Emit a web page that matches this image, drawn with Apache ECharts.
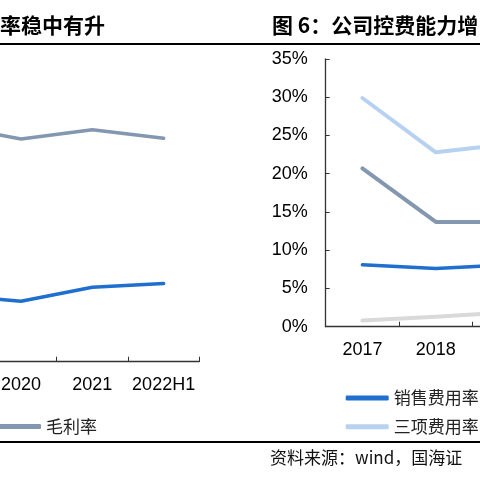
<!DOCTYPE html>
<html>
<head>
<meta charset="utf-8">
<script src="https://cdn.jsdelivr.net/npm/echarts@6/dist/echarts.min.js"></script>
<style>
html,body{margin:0;padding:0;background:#fff;overflow:hidden;width:480px;height:480px;}
#wrap{position:relative;width:480px;height:480px;overflow:hidden;}
#main{position:absolute;left:-500px;top:0;width:1400px;height:480px;}
</style>
</head>
<body>
<div id="wrap"><div id="main"></div></div>
<script>
// Left panel (cropped): margins
var leftYears = ['2019', '2020', '2021', '2022H1'];
var grossMargin = [39.0, 36.8, 38.3, 36.9];
var netMargin = [11.0, 10.0, 12.3, 12.9];

// Right panel (cropped): expense ratios
var rightYears = ['2017', '2018', '2019'];
var salesExp = [8.1, 7.6, 8.1];
var adminExp = [20.7, 13.7, 13.7];
var totalExp = [29.9, 22.8, 23.9];
var rdExp = [0.8, 1.3, 1.9];

var rightTicks = [0, 5, 10, 15, 20, 25, 30, 35];

var leftTitle = '率稳中有升';
var rightTitle = '图 6：公司控费能力增';
var sourceText = '资料来源：wind，国海证';

var OX = 500; // chart canvas is shifted left by this amount
var C_BLUE = '#1f6fcf';
var C_GRAY = '#8497b0';
var C_LBLUE = '#b7d2f1';
var C_LGRAY = '#d9d9d9';
var CJK = '"Noto Sans CJK SC", "Liberation Sans", sans-serif';
var LAT = '"Liberation Sans", Arial, sans-serif';

var chart = echarts.init(document.getElementById('main'), null, {renderer: 'canvas'});

function xAxisCfg(idx, data) {
  return {
    type: 'category', gridIndex: idx, data: data, boundaryGap: true,
    axisLine: {show: true, lineStyle: {color: '#333', width: 1.3}},
    axisTick: {show: true, inside: true, length: 5, lineStyle: {color: '#333'}},
    axisLabel: {color: '#000', fontSize: 18, fontFamily: LAT, margin: 14, interval: 0},
    splitLine: {show: false}
  };
}

var option = {
  animation: false,
  backgroundColor: '#fff',
  grid: [
    {left: OX - 86, top: 59, width: 285.3, bottom: 118.3},
    {left: OX + 325.7, top: 59, width: 220.2, bottom: 153.3}
  ],
  xAxis: [xAxisCfg(0, leftYears), xAxisCfg(1, rightYears)],
  yAxis: [
    {type: 'value', gridIndex: 0, min: 0, max: 50, show: false},
    {type: 'value', gridIndex: 1, min: rightTicks[0], max: rightTicks[rightTicks.length - 1], interval: 5,
     axisLine: {show: true, lineStyle: {color: '#333', width: 1.3}},
     axisTick: {show: true, inside: true, length: 4, lineStyle: {color: '#333'}},
     axisLabel: {color: '#000', fontSize: 18, fontFamily: LAT, margin: 18, formatter: '{value}%'},
     splitLine: {show: false}}
  ],
  legend: [
    {data: ['毛利率'], left: OX - 7, top: 413, itemWidth: 43, itemHeight: 5, icon: 'roundRect',
     textStyle: {fontSize: 17, fontFamily: CJK, color: '#222', lineHeight: 17}},
    {data: ['销售费用率', '三项费用率'], orient: 'vertical', left: OX + 340.7, top: 384.5, itemGap: 11.7,
     itemWidth: 43, itemHeight: 5, icon: 'roundRect',
     textStyle: {fontSize: 17, fontFamily: CJK, color: '#222', lineHeight: 17}}
  ],
  series: [
    {name: '毛利率', type: 'line', xAxisIndex: 0, yAxisIndex: 0, data: grossMargin, symbol: 'none',
     itemStyle: {color: C_GRAY}, lineStyle: {color: C_GRAY, width: 3.5, cap: 'round', join: 'round'}},
    {name: '净利率', type: 'line', xAxisIndex: 0, yAxisIndex: 0, data: netMargin, symbol: 'none',
     itemStyle: {color: C_BLUE}, lineStyle: {color: C_BLUE, width: 3.5, cap: 'round', join: 'round'}},
    {name: '研发费用率', type: 'line', xAxisIndex: 1, yAxisIndex: 1, data: rdExp, symbol: 'none',
     itemStyle: {color: C_LGRAY}, lineStyle: {color: C_LGRAY, width: 4, cap: 'round', join: 'round'}},
    {name: '销售费用率', type: 'line', xAxisIndex: 1, yAxisIndex: 1, data: salesExp, symbol: 'none',
     itemStyle: {color: C_BLUE}, lineStyle: {color: C_BLUE, width: 3.5, cap: 'round', join: 'round'}},
    {name: '管理费用率', type: 'line', xAxisIndex: 1, yAxisIndex: 1, data: adminExp, symbol: 'none',
     itemStyle: {color: C_GRAY}, lineStyle: {color: C_GRAY, width: 4, cap: 'round', join: 'round'}},
    {name: '三项费用率', type: 'line', xAxisIndex: 1, yAxisIndex: 1, data: totalExp, symbol: 'none',
     itemStyle: {color: C_LBLUE}, lineStyle: {color: C_LBLUE, width: 4, cap: 'round', join: 'round'}}
  ],
  graphic: [
    {type: 'text', left: OX + 0, top: 15, style: {text: leftTitle, font: 'bold 21px ' + CJK, fill: '#000'}},
    {type: 'text', left: OX + 272, top: 15, style: {text: rightTitle, font: 'bold 21px ' + CJK, fill: '#000'}},
    {type: 'line', shape: {x1: 0, y1: 44, x2: 1400, y2: 44}, style: {stroke: '#000', lineWidth: 2}},
    {type: 'line', shape: {x1: 0, y1: 442, x2: 1400, y2: 442}, style: {stroke: '#000', lineWidth: 2}},
    {type: 'text', left: OX + 270, top: 449, style: {text: sourceText, font: '17px ' + CJK, fill: '#111'}}
  ]
};
chart.setOption(option);
</script>
</body>
</html>
